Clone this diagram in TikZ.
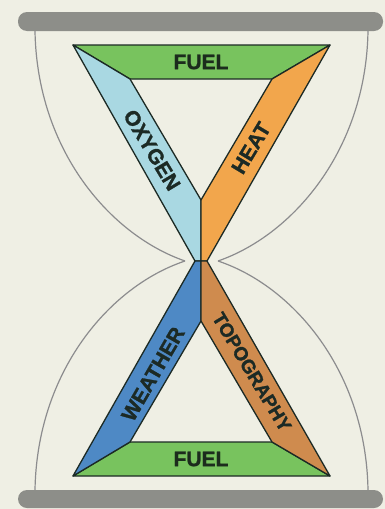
\documentclass[tikz,border=0pt]{standalone}
\usepackage{fontspec}
\usepackage{tikz}
\newfontfamily\lblfont{Liberation Sans}[BoldFeatures={FakeBold=1.3}]
\definecolor{paper}{HTML}{EFEFE4}
\definecolor{ink}{HTML}{1C2A25}
\definecolor{fuelc}{HTML}{78C35E}
\definecolor{oxyc}{HTML}{A9D8E2}
\definecolor{heatc}{HTML}{F2A64C}
\definecolor{wthc}{HTML}{4E89C5}
\definecolor{topoc}{HTML}{CF8B4E}
\definecolor{barc}{HTML}{8D8E89}
\definecolor{glassc}{HTML}{8C8C8E}
\tikzset{
  band/.style={draw=ink,line width=1.3pt,line join=round},
  lbl/.style={text=ink,inner sep=0pt,font=\lblfont\bfseries\fontsize{21}{21}\selectfont},
  glass/.style={draw=glassc,line width=1.2pt},
  bar/.style={fill=barc,rounded corners=9pt},
}

\begin{document}
\begin{tikzpicture}[x=1pt,y=-1pt]
\fill[paper] (0,0) rectangle (385,509);
\useasboundingbox (0,0) rectangle (385,509);
% corners of the two triangles
\coordinate (tl) at (73,45);   \coordinate (tr) at (330,45);
\coordinate (til) at (130,79); \coordinate (tir) at (272,79);
\coordinate (tin) at (201,200);
\coordinate (wl) at (195,261); \coordinate (wc) at (201,261); \coordinate (wr) at (207,261);
\coordinate (bl) at (73,476);  \coordinate (br) at (330,476);
\coordinate (bil) at (130,442); \coordinate (bir) at (272,442);
\coordinate (bin) at (201,321);
% glass
\draw[glass] (35,31) .. controls (37,150) and (110,235) .. (185,261);
\draw[glass] (35,490) .. controls (37,371) and (110,286) .. (185,261);
\draw[glass] (368,31) .. controls (366,150) and (293,235) .. (218,261);
\draw[glass] (368,490) .. controls (366,371) and (293,286) .. (218,261);
\fill[bar] (18,12) rectangle (383,31);
\fill[bar] (18,490) rectangle (383,508);
% bands
\filldraw[band,fill=fuelc] (tl)--(tr)--(tir)--(til)--cycle;
\filldraw[band,fill=oxyc] (tl)--(til)--(tin)--(wc)--(wl)--cycle;
\filldraw[band,fill=heatc] (tr)--(tir)--(tin)--(wc)--(wr)--cycle;
\filldraw[band,fill=fuelc] (bl)--(br)--(bir)--(bil)--cycle;
\filldraw[band,fill=wthc] (bl)--(bil)--(bin)--(wc)--(wl)--cycle;
\filldraw[band,fill=topoc] (br)--(bir)--(bin)--(wc)--(wr)--cycle;
% labels
\node[lbl,text=ink!80!fuelc!60!black] (fuel1) at (201,62) {FUEL};
\node[lbl,rotate=-59] (oxy) at (152,150) {OXYGEN};
\node[lbl,rotate=59] (heat) at (251,148) {HEAT};
\node[lbl,rotate=60] (wth) at (153,374) {WEATHER};
\node[lbl,rotate=-59,font=\lblfont\bfseries\fontsize{19}{19}\selectfont] (topo) at (252,372) {TOPOGRAPHY};
\node[lbl,text=ink!80!fuelc!60!black] (fuel2) at (201,459) {FUEL};
\end{tikzpicture}
\end{document}
